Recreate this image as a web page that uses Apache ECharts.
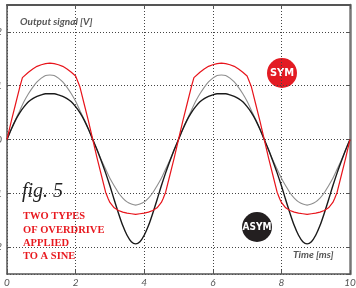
<!DOCTYPE html>
<html>
<head>
<meta charset="utf-8">
<script src="https://cdn.jsdelivr.net/npm/echarts@6/dist/echarts.min.js"></script>
<style>
  html, body { margin: 0; padding: 0; background: #fff; }
  #main { width: 356px; height: 288px; }
</style>
</head>
<body>
<div id="main"></div>
<script>
// time axis [ms]
var times = [0,0.125,0.25,0.375,0.5,0.625,0.75,0.875,1,1.125,1.25,1.375,1.5,1.625,1.75,1.875,2,2.125,2.25,2.375,2.5,
  2.625,2.75,2.875,3,3.125,3.25,3.375,3.5,3.625,3.75,3.875,4,4.125,4.25,4.375,4.5,4.625,4.75,4.875,5,
  5.125,5.25,5.375,5.5,5.625,5.75,5.875,6,6.125,6.25,6.375,6.5,6.625,6.75,6.875,7,7.125,7.25,7.375,7.5,
  7.625,7.75,7.875,8,8.125,8.25,8.375,8.5,8.625,8.75,8.875,9,9.125,9.25,9.375,9.5,9.625,9.75,9.875,10];

// clean sine (gray)
var sine = [0,0.19,0.37,0.54,0.71,0.85,0.97,1.07,1.14,1.19,1.2,1.19,1.14,1.07,0.97,0.85,0.71,0.54,0.37,0.19,0,
  -0.19,-0.38,-0.55,-0.72,-0.86,-0.99,-1.09,-1.16,-1.2,-1.22,-1.2,-1.16,-1.09,-0.99,-0.86,-0.72,-0.55,-0.38,-0.19,0,
  0.19,0.37,0.54,0.71,0.85,0.97,1.07,1.14,1.19,1.2,1.19,1.14,1.07,0.97,0.85,0.71,0.54,0.37,0.19,0,
  -0.19,-0.38,-0.55,-0.72,-0.86,-0.99,-1.09,-1.16,-1.2,-1.22,-1.2,-1.16,-1.09,-0.99,-0.86,-0.72,-0.55,-0.38,-0.19,0];

// asymmetric overdrive (black)
var asym = [0,0.19,0.36,0.5,0.61,0.7,0.76,0.8,0.83,0.85,0.85,0.85,0.83,0.8,0.76,0.7,0.61,0.5,0.36,0.19,0,
  -0.19,-0.4,-0.62,-0.86,-1.12,-1.37,-1.6,-1.78,-1.9,-1.94,-1.9,-1.78,-1.6,-1.37,-1.12,-0.86,-0.62,-0.4,-0.19,0,
  0.19,0.36,0.5,0.61,0.7,0.76,0.8,0.83,0.85,0.85,0.85,0.83,0.8,0.76,0.7,0.61,0.5,0.36,0.19,0,
  -0.19,-0.4,-0.62,-0.86,-1.12,-1.37,-1.6,-1.78,-1.9,-1.94,-1.9,-1.78,-1.6,-1.37,-1.12,-0.86,-0.62,-0.4,-0.19,0];

// symmetric overdrive (red), own time points for the knees
var symTimes = [0,0.125,0.25,0.375,0.45,0.5,0.625,0.75,0.875,1,1.125,1.25,1.375,1.5,1.625,1.75,1.875,2,2.05,2.125,2.25,2.375,2.5,
  2.625,2.75,2.875,2.95,3,3.125,3.25,3.375,3.5,3.625,3.75,3.875,4,4.125,4.25,4.375,4.5,4.55,4.625,4.75,4.875,5,
  5.125,5.25,5.375,5.45,5.5,5.625,5.75,5.875,6,6.125,6.25,6.375,6.5,6.625,6.75,6.875,7,7.05,7.125,7.25,7.375,7.5,
  7.625,7.75,7.875,7.95,8,8.125,8.25,8.375,8.5,8.625,8.75,8.875,9,9.125,9.25,9.375,9.5,9.55,9.625,9.75,9.875,10];
var sym = [0,0.34,0.66,0.98,1.15,1.18,1.25,1.31,1.36,1.39,1.41,1.42,1.41,1.39,1.36,1.31,1.25,1.18,1.15,0.98,0.66,0.34,0,
  -0.34,-0.66,-0.98,-1.1,-1.17,-1.27,-1.32,-1.35,-1.37,-1.38,-1.39,-1.38,-1.37,-1.35,-1.32,-1.27,-1.17,-1.1,-0.98,-0.66,-0.34,0,
  0.34,0.66,0.98,1.15,1.18,1.25,1.31,1.36,1.39,1.41,1.42,1.41,1.39,1.36,1.31,1.25,1.18,1.15,0.98,0.66,0.34,0,
  -0.34,-0.66,-0.98,-1.1,-1.17,-1.27,-1.32,-1.35,-1.37,-1.38,-1.39,-1.38,-1.37,-1.35,-1.32,-1.27,-1.17,-1.1,-0.98,-0.66,-0.34,0];

var xTicks = [0, 2, 4, 6, 8, 10];
var noteLines = ['TWO TYPES', 'OF OVERDRIVE', 'APPLIED', 'TO A SINE'];

function pairs(xs, ys) {
  return xs.map(function (x, i) { return [x, ys[i]]; });
}

var axisColor = '#555';
var gridLine = { show: true, lineStyle: { color: '#444', type: [1, 2], width: 1 } };

var chart = echarts.init(document.getElementById('main'));

var graphics = [
  { type: 'text', left: 20, top: 17, style: { text: 'Output signal [V]', fill: '#555', font: 'italic bold 10px Lato, sans-serif' } },
  { type: 'text', left: 293, top: 250, style: { text: 'Time [ms]', fill: '#555', font: 'italic bold 10px Lato, sans-serif' } },
  { type: 'text', left: 22, top: 182, style: { text: 'fig. 5', fill: '#222', font: 'italic 20px "Liberation Serif", serif' } },
  { type: 'circle', shape: { cx: 282, cy: 73, r: 15 }, style: { fill: '#e31b23' } },
  { type: 'text', x: 282, y: 73, style: { text: 'SYM', fill: '#fff', align: 'center', verticalAlign: 'middle', font: 'bold 11px "Liberation Sans Narrow", "DejaVu Sans Condensed", sans-serif' } },
  { type: 'circle', shape: { cx: 257, cy: 227, r: 15 }, style: { fill: '#231f20' } },
  { type: 'text', x: 257, y: 227, style: { text: 'ASYM', fill: '#fff', align: 'center', verticalAlign: 'middle', font: 'bold 10px "Liberation Sans Narrow", "DejaVu Sans Condensed", sans-serif' } }
];
noteLines.forEach(function (line, i) {
  graphics.push({ type: 'text', left: 23, top: 211 + i * 13.4, style: { text: line, fill: '#e8191f', font: 'bold 10.5px "Liberation Serif", serif' } });
});

var option = {
  animation: false,
  grid: { left: 7, right: 6, top: 5, bottom: 14, containLabel: false, outerBoundsMode: 'none' },
  xAxis: [
    {
      type: 'value', min: 0, max: 10, interval: 2, position: 'bottom',
      axisLine: { onZero: false, lineStyle: { color: axisColor, width: 1.5 } },
      axisTick: { inside: true, length: 4, lineStyle: { color: axisColor } },
      axisLabel: { margin: 4, color: '#555', fontStyle: 'italic', fontSize: 10, fontFamily: 'Lato',
        formatter: function (v) { return xTicks.indexOf(v) >= 0 ? String(v) : ''; } },
      splitLine: gridLine
    },
    {
      type: 'value', min: 0, max: 10, interval: 2, position: 'top',
      axisLine: { onZero: false, lineStyle: { color: axisColor, width: 2 } },
      axisTick: { inside: true, length: 4, lineStyle: { color: axisColor } },
      axisLabel: { show: false }, splitLine: { show: false }
    }
  ],
  yAxis: [
    {
      type: 'value', min: -2.5, max: 2.5, splitNumber: 5, position: 'left',
      axisLine: { onZero: false, lineStyle: { color: axisColor, width: 1.5 } },
      axisTick: { inside: true, length: 4, lineStyle: { color: axisColor } },
      axisLabel: { margin: 5, color: '#555', fontStyle: 'italic', fontSize: 10, fontFamily: 'Lato', showMinLabel: false, showMaxLabel: false },
      splitLine: gridLine
    },
    {
      type: 'value', min: -2.5, max: 2.5, splitNumber: 5, position: 'right',
      axisLine: { onZero: false, lineStyle: { color: '#777', width: 2.5 } },
      axisTick: { inside: true, length: 4, lineStyle: { color: axisColor } },
      axisLabel: { show: false }, splitLine: { show: false }
    }
  ],
  series: [
    { name: 'sine', type: 'line', data: pairs(times, sine), showSymbol: false, smooth: 0.3,
      lineStyle: { color: '#8e8e8e', width: 1.1 } },
    { name: 'asym', type: 'line', data: pairs(times, asym), showSymbol: false, smooth: 0.3,
      lineStyle: { color: '#1a1a1a', width: 1.4 } },
    { name: 'sym', type: 'line', data: pairs(symTimes, sym), showSymbol: false,
      lineStyle: { color: '#e8141b', width: 1.2 } }
  ],
  graphic: graphics
};

chart.setOption(option);
</script>
</body>
</html>
